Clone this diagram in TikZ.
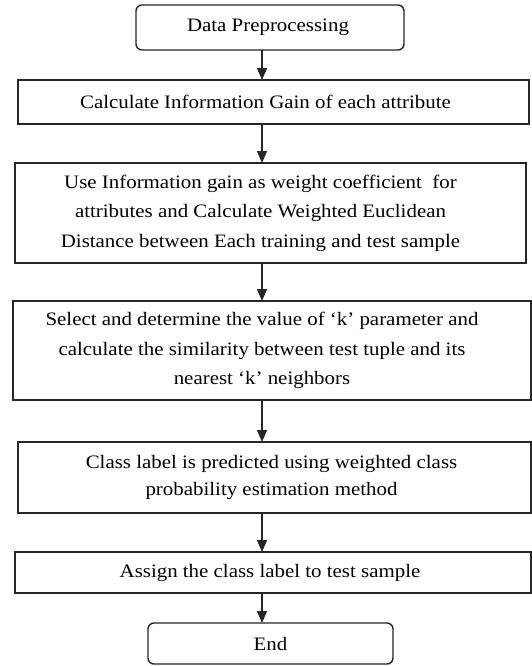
\documentclass[tikz,border=0pt]{standalone}
\usepackage{fontspec}
\setmainfont{Liberation Serif}[FakeStretch=1.1]
\usetikzlibrary{arrows.meta}
\begin{document}
\begin{tikzpicture}[x=1pt,y=-1pt,
  box/.style={draw=black!85, line width=1.4pt, anchor=north west, inner sep=0pt, outer sep=0pt},
  term/.style={box, rounded corners=6pt},
  txt/.style={inner sep=0pt, align=center, font=\fontsize{19}{29.5}\selectfont, text=black},
  arr/.style={draw=black!85, line width=1.4pt, -{Triangle[width=10pt,length=12pt]}}
]
\useasboundingbox (0,0) rectangle (532,666);
\fill[white] (0,0) rectangle (532,666);

\node[term, minimum width=268, minimum height=45] (b1) at (136,5) {};
\node[box, minimum width=511, minimum height=44] (b2) at (18,80) {};
\node[box, minimum width=511, minimum height=100] (b3) at (15,163) {};
\node[box, minimum width=518, minimum height=99] (b4) at (13,301) {};
\node[box, minimum width=513, minimum height=71] (b5) at (18,442) {};
\node[box, minimum width=516, minimum height=41] (b6) at (15,552) {};
\node[term, minimum width=245, minimum height=41] (b7) at (148,623) {};

\node[txt] (t1) at ([xshift=-2pt]b1.center) {Data Preprocessing};
\node[txt] (t2) at ([xshift=-8pt]b2.center) {Calculate Information Gain of each attribute};
\node[txt] (t3) at ([xshift=-10pt]b3.center) {Use Information gain as weight coefficient\ \ for\\attributes and Calculate Weighted Euclidean\\Distance between Each training and test sample};
\node[txt] (t4) at ([xshift=-10pt]b4.center) {Select and determine the value of ‘k’ parameter and\\calculate the similarity between test tuple and its\\nearest ‘k’ neighbors};
\node[txt, font=\fontsize{19}{27}\selectfont] (t5) at ([xshift=-3pt]b5.center) {Class label is predicted using weighted class\\probability estimation method};
\node[txt] (t6) at ([xshift=-3pt]b6.center) {Assign the class label to test sample};
\node[txt] (t7) at (b7.center) {End};

\coordinate (ax) at (262,0);
\draw[arr] (b1.south -| ax) -- (b2.north -| ax);
\draw[arr] (b2.south -| ax) -- (b3.north -| ax);
\draw[arr] (b3.south -| ax) -- (b4.north -| ax);
\draw[arr] (b4.south -| ax) -- (b5.north -| ax);
\draw[arr] (b5.south -| ax) -- (b6.north -| ax);
\draw[arr] (b6.south -| ax) -- (b7.north -| ax);
\end{tikzpicture}
\end{document}
